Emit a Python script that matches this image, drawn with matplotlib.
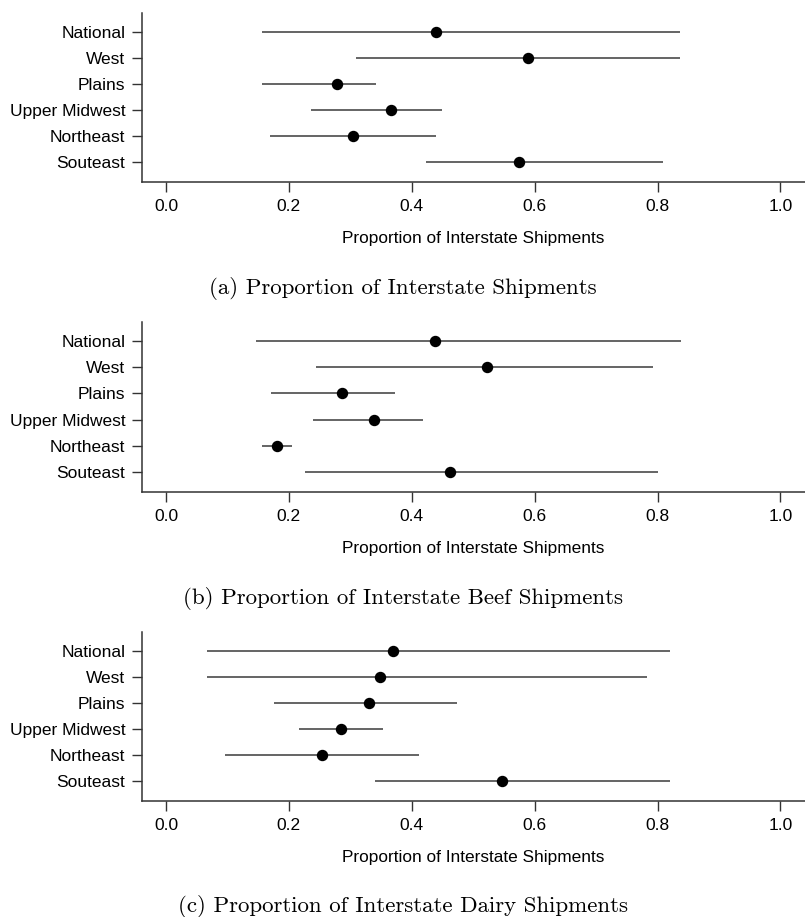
import matplotlib
matplotlib.use("Agg")
import matplotlib.pyplot as plt

regions = ["National", "West", "Plains", "Upper Midwest", "Northeast", "Souteast"]

# Panel (a): all shipments
a_low = [0.156, 0.309, 0.156, 0.236, 0.169, 0.424]
a_mid = [0.439, 0.589, 0.279, 0.367, 0.304, 0.574]
a_high = [0.836, 0.836, 0.342, 0.450, 0.440, 0.809]

# Panel (b): beef
b_low = [0.146, 0.244, 0.171, 0.239, 0.157, 0.226]
b_mid = [0.438, 0.523, 0.287, 0.339, 0.181, 0.463]
b_high = [0.838, 0.793, 0.372, 0.418, 0.205, 0.801]

# Panel (c): dairy
c_low = [0.066, 0.066, 0.176, 0.217, 0.096, 0.341]
c_mid = [0.369, 0.349, 0.330, 0.285, 0.254, 0.547]
c_high = [0.821, 0.783, 0.473, 0.353, 0.411, 0.821]

xticks = [0.0, 0.2, 0.4, 0.6, 0.8, 1.0]
xtick_labels = ["0.0", "0.2", "0.4", "0.6", "0.8", "1.0"]
xlabel = "Proportion of Interstate Shipments"
captions = ["(a) Proportion of Interstate Shipments",
            "(b) Proportion of Interstate Beef Shipments",
            "(c) Proportion of Interstate Dairy Shipments"]

panels = [(a_low, a_mid, a_high), (b_low, b_mid, b_high), (c_low, c_mid, c_high)]

W, H = 805, 917
fig = plt.figure(figsize=(W / 100, H / 100), dpi=100)

ax_left_px = 142
ax_right_px = 805
tops = [13, 322, 632]
bottoms = [182, 492, 801]
caption_y = [289, 598, 907]

sans = ["Liberation Sans", "DejaVu Sans"]
serif = ["cmr10", "DejaVu Serif"]
plt.rcParams["axes.formatter.use_mathtext"] = True

for i, (lo, mid, hi) in enumerate(panels):
    l = ax_left_px / W
    w = (ax_right_px - ax_left_px) / W
    b = 1 - bottoms[i] / H
    h = (bottoms[i] - tops[i]) / H
    ax = fig.add_axes([l, b, w, h])
    ypos = list(range(len(regions)))
    ax.hlines(ypos, lo, hi, color="#4a4a4a", lw=1.2)
    ax.plot(mid, ypos, "o", color="black", ms=7.2, zorder=3)
    ax.set_ylim(5.77, -0.73)
    ax.set_xlim(-0.039, 1.04)
    ax.set_yticks(ypos)
    ax.set_yticklabels(regions, fontfamily=sans, fontsize=12.5)
    ax.set_xticks(xticks)
    ax.set_xticklabels(xtick_labels, fontfamily=sans, fontsize=12.5)
    ax.tick_params(axis="both", direction="out", length=7, width=1.0, color="#333333")
    ax.tick_params(axis="y", pad=5)
    ax.tick_params(axis="x", pad=5.5)
    for s in ["top", "right"]:
        ax.spines[s].set_visible(False)
    for s in ["left", "bottom"]:
        ax.spines[s].set_color("#333333")
        ax.spines[s].set_linewidth(1.1)
    ax.set_xlabel(xlabel, fontfamily=sans, fontsize=12.4, labelpad=12)
    fig.text(0.5, 1 - caption_y[i] / H, captions[i], ha="center", va="center",
             fontfamily=serif, fontsize=16.5)

fig.savefig("out.png", dpi=100)
